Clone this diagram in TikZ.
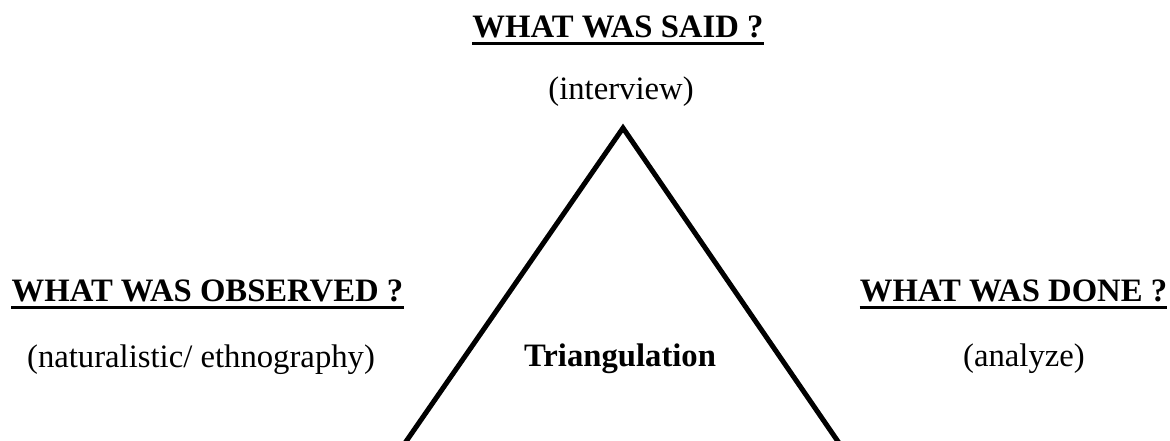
\documentclass[tikz,border=0pt]{standalone}
\usepackage{fontspec}
\setmainfont{Liberation Serif}
\begin{document}
\begin{tikzpicture}[x=1pt,y=1pt,
  lbl/.style={inner sep=0pt,anchor=base,font=\fontsize{32.7}{38}\selectfont},
  head/.style={lbl,font=\fontsize{32.7}{38}\selectfont\bfseries},
  uline/.style={line width=3pt},
  tri/.style={line width=5pt,line join=miter}]
\useasboundingbox (0,0) rectangle (1170,441);
\node[head] (said) at (618,403) {WHAT WAS SAID ?};
\node[lbl] (interview) at (621,341) {(interview)};
\node[head] (obs) at (207.5,139) {WHAT WAS OBSERVED ?};
\node[lbl] (natur) at (201,73) {(naturalistic/ ethnography)};
\node[head] (done) at (1013.5,139) {WHAT WAS DONE ?};
\node[lbl] (analyze) at (1024,74) {(analyze)};
\node[head] (triang) at (620,74) {Triangulation};
\foreach \n in {said,obs,done}{
  \draw[uline] ([yshift=-6pt]\n.base west) -- ([yshift=-6pt]\n.base east);
}
\coordinate (apex) at (623,313);
\coordinate (bl) at (405,-2);
\coordinate (br) at (839,-2);
\draw[tri] (bl) -- (apex) -- (br);
\end{tikzpicture}
\end{document}
